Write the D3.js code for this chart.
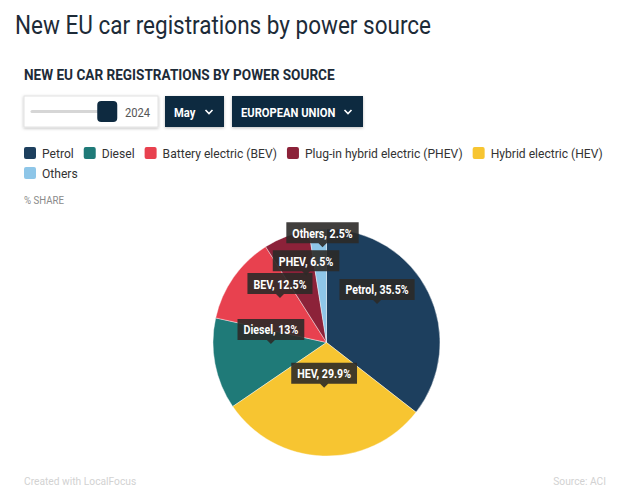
<!DOCTYPE html>
<html><head><meta charset="utf-8">
<script src="https://cdn.jsdelivr.net/npm/d3@7"></script>
<style>body{margin:0;background:#fff;} svg{display:block;font-family:Roboto, "Noto Sans", sans-serif;}</style>
</head><body><svg id="c" width="620" height="496"></svg>
<script>
// ---- data ----
const categories = ["Petrol", "Diesel", "Battery electric (BEV)", "Plug-in hybrid electric (PHEV)", "Hybrid electric (HEV)", "Others"];
const shortNames = ["Petrol", "Diesel", "BEV", "PHEV", "HEV", "Others"];
const shares = [35.5, 13, 12.5, 6.5, 29.9, 2.5];
const colors = ["#1d3f5e", "#1f7a78", "#e8414f", "#8c2239", "#f7c531", "#8ec6e8"];
const yearValue = "2024", monthValue = "May", regionValue = "EUROPEAN UNION";
const titleText = "New EU car registrations by power source";
const subtitleText = "NEW EU CAR REGISTRATIONS BY POWER SOURCE";

// label anchor placement (polar: angle in degrees clockwise from top, fraction of radius)
const labelPlacement = {Petrol:[52.7,0.56], HEV:[183,0.40], Diesel:[268.5,0.49], BEV:[313.7,0.567], PHEV:[343.1,0.62], Others:[357.6,0.84]};

const svg = d3.select("#c");
const COND = 0.93;
function condense(sel, f){
  sel.each(function(){
    const w = this.getComputedTextLength();
    d3.select(this).attr("textLength", w*(f||COND)).attr("lengthAdjust","spacingAndGlyphs");
  });
  return sel;
}

// shadow filter
const defs = svg.append("defs");
const flt = defs.append("filter").attr("id","sh").attr("x","-10%").attr("y","-20%").attr("width","120%").attr("height","150%");
flt.append("feDropShadow").attr("dx",0).attr("dy",1).attr("stdDeviation",1.5).attr("flood-color","#000").attr("flood-opacity",0.25);

// title
svg.append("text").attr("x",15).attr("y",34).attr("font-size",25).attr("fill","#1d2b38").text(titleText).call(condense, 0.90);
svg.append("text").attr("x",24).attr("y",80).attr("font-size",14).attr("font-weight",700).attr("fill","#1d2b38").text(subtitleText).call(condense, 0.97);

// controls
const ctl = svg.append("g");
ctl.append("rect").attr("x",24).attr("y",96).attr("width",134).attr("height",31).attr("fill","#fff").attr("stroke","#e2e2e2").attr("filter","url(#sh)");
const sx = d3.scaleLinear().domain([0,1]).range([32,107]);
ctl.append("line").attr("x1",sx(0)).attr("x2",sx(1)).attr("y1",111.5).attr("y2",111.5).attr("stroke","#d6d6d6").attr("stroke-width",3).attr("stroke-linecap","round");
ctl.append("rect").attr("x",sx(0.87)).attr("y",101).attr("width",20).attr("height",21).attr("rx",4).attr("fill","#0e2a40");
ctl.append("text").attr("x",125).attr("y",116.5).attr("font-size",13).attr("fill","#555").text(yearValue).call(condense, 0.86);

function dropdown(x, w, label){
  const g = ctl.append("g");
  g.append("rect").attr("x",x).attr("y",96).attr("width",w).attr("height",31).attr("fill","#0f2a40").attr("filter","url(#sh)");
  g.append("text").attr("x",x+9).attr("y",116.5).attr("font-size",13).attr("font-weight",700).attr("fill","#fff").text(label).call(condense, 0.86);
  const cx = x + w - 15;
  g.append("path").attr("d",`M${cx-3.5},${110} L${cx},${113.5} L${cx+3.5},${110}`).attr("fill","none").attr("stroke","#fff").attr("stroke-width",1.6);
}
dropdown(165, 59, monthValue);
dropdown(232, 131, regionValue);

// legend (flow layout)
const lg = svg.append("g");
let lx = 24, ly = 153;
categories.forEach((c,i)=>{
  const t = lg.append("text").attr("font-size",13).attr("fill","#333").text(c).call(condense, 0.93);
  const tw = +t.attr("textLength");
  if (lx + 18 + tw > 610){ lx = 24; ly += 20; }
  lg.append("rect").attr("x",lx).attr("y",ly-6).attr("width",12).attr("height",12).attr("rx",2).attr("fill",colors[i]);
  t.attr("x",lx+18).attr("y",ly+4.5);
  lx += 18 + tw + 10;
});

svg.append("text").attr("x",24).attr("y",204).attr("font-size",10.5).attr("fill","#8a8a8a").text("% SHARE").call(condense, 0.92);

// pie
const cx = 326.5, cy = 342.5, R = 113.5;
const data = categories.map((c,i)=>({cat:c, short:shortNames[i], value:shares[i], color:colors[i]}));
const pie = d3.pie().value(d=>d.value).sort((a,b)=>b.value-a.value);
const arc = d3.arc().innerRadius(0).outerRadius(R);
const arcs = pie(data);
const pg = svg.append("g").attr("transform",`translate(${cx},${cy})`);
pg.selectAll("path.s").data(arcs).join("path").attr("class","s").attr("d",arc).attr("fill",d=>d.data.color).attr("stroke","#fff").attr("stroke-width",0.4);

// labels
const fmt = v => (Math.round(v*10)/10).toString();
const labs = pg.append("g");
arcs.forEach(a=>{
  const pl = labelPlacement[a.data.short];
  const ang = pl[0]*Math.PI/180, r = pl[1]*R;
  const tx = r*Math.sin(ang), ty = -r*Math.cos(ang);
  const g = labs.append("g").attr("transform",`translate(${tx},${ty})`);
  const path = g.append("path");
  const t = g.append("text").attr("text-anchor","middle").attr("y",-9.5).attr("font-size",12.5).attr("font-weight",700).attr("fill","#fff").text(`${a.data.short}, ${fmt(a.data.value)}%`).call(condense, 0.85);
  const w = +t.attr("textLength") + 12, h = 21, p = 4;
  path.attr("d",`M${-w/2},${-p-h} H${w/2} V${-p} H4 L0,0 L-4,${-p} H${-w/2} Z`).attr("fill","rgba(44,42,40,0.9)");
});

// footer
svg.append("text").attr("x",24).attr("y",485).attr("font-size",11).attr("fill","#d2d2d2").text("Created with LocalFocus").call(condense, 0.93);
svg.append("text").attr("x",606).attr("y",485).attr("text-anchor","end").attr("font-size",11).attr("fill","#d2d2d2").text("Source: ACI").call(condense, 0.93);
</script></body></html>
